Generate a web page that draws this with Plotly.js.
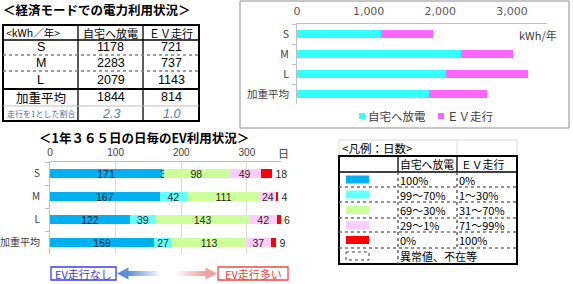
<!DOCTYPE html>
<html>
<head>
<meta charset="utf-8">
<script src="https://cdn.plot.ly/plotly-3.0.1.min.js"></script>
<style>html,body{margin:0;padding:0;background:#fff;}#chart{width:573px;height:284px;}</style>
</head>
<body>
<div id="chart"></div>
<script>
// ---------- data ----------
const categories = ['S', 'M', 'L', '加重平均'];
const homeKwh = [1178, 2283, 2079, 1844];
const evKwh = [721, 737, 1143, 814];
const ratioVals = ['2.3', '1.0'];
const ratioLabel = '走行を1とした割合';
const kwhSeriesNames = ['自宅へ放電', 'ＥＶ走行'];
const unitLabel = '&lt;kWh／年&gt;';

const days100 = [171, 167, 122, 159];
const days99to70 = [3, 42, 39, 27];
const days69to30 = [98, 111, 143, 113];
const days29to1 = [49, 24, 42, 37];
const days0 = [18, 4, 6, 9];

const legendHome = ['100%', '99～70%', '69～30%', '29～1%', '0%'];
const legendEv = ['0%', '1～30%', '31～70%', '71～99%', '100%'];
const legendOther = '異常値、不在等';
const xTicks1 = [0, 1000, 2000, 3000];
const xTicks2 = [0, 100, 200, 300];

// ---------- helpers ----------
const W = 573, H = 284;
const px = x => x / W, py = y => 1 - y / H;
const JP = '"Noto Sans CJK JP", sans-serif';
const LAT = '"Liberation Sans", sans-serif';
const shapes = [], ann = [];
function line(x0, y0, x1, y1, color, width, dash) {
  shapes.push({type: 'line', xref: 'paper', yref: 'paper', x0: px(x0), y0: py(y0), x1: px(x1), y1: py(y1),
    line: {color: color, width: width, dash: dash || 'solid'}});
}
function rect(x0, y0, x1, y1, fill, lcolor, lwidth, dash) {
  shapes.push({type: 'rect', xref: 'paper', yref: 'paper', x0: px(x0), y0: py(y0), x1: px(x1), y1: py(y1),
    fillcolor: fill || 'rgba(0,0,0,0)', line: {color: lcolor || 'rgba(0,0,0,0)', width: lwidth || 0, dash: dash || 'solid'}});
}
function text(x, y, t, size, color, anchor, family) {
  ann.push({xref: 'paper', yref: 'paper', x: px(x), y: py(y), text: t, showarrow: false,
    xanchor: anchor || 'center', yanchor: 'middle', borderpad: 0,
    font: {family: family || JP, size: size, color: color || '#000'}});
}

// ---------- titles ----------
text(2, 10, '<b>＜経済モードでの電力利用状況＞</b>', 12.5, '#000', 'left');
text(144, 137, '<b>＜1年３６５日の日毎のEV利用状況＞</b>', 12.5, '#000', 'center');

// ---------- table 1 ----------
const t1c = [3, 78, 143, 199];
const t1r = [25, 40, 55, 71, 89, 106, 121];
rect(t1c[0], t1r[0], t1c[3], t1r[6], null, '#000', 2);
line(t1c[1], t1r[0], t1c[1], t1r[6], '#000', 1.3);
line(t1c[2], t1r[0], t1c[2], t1r[6], '#000', 1.3);
line(t1c[0], t1r[1], t1c[3], t1r[1], '#000', 1.3);
line(t1c[0], t1r[2], t1c[3], t1r[2], '#7f7f7f', 1.5, 'dot');
line(t1c[0], t1r[3], t1c[3], t1r[3], '#7f7f7f', 1.5, 'dot');
line(t1c[0], t1r[4], t1c[3], t1r[4], '#000', 2.2);
line(t1c[0], t1r[5], t1c[3], t1r[5], '#bfbfbf', 1);
const cc = [(t1c[0] + t1c[1]) / 2, (t1c[1] + t1c[2]) / 2, (t1c[2] + t1c[3]) / 2];
const rc = i => (t1r[i] + t1r[i + 1]) / 2;
text(5, rc(0), unitLabel, 10.5, '#000', 'left');
text(cc[1], rc(0), kwhSeriesNames[0], 11, '#000');
text(cc[2], rc(0), kwhSeriesNames[1], 11, '#000');
categories.forEach((c, i) => {
  if (i < 3) text(cc[0], rc(i + 1), c, 12.5, '#000', 'center', LAT);
  else text(cc[0], rc(i + 1), c, 12.5, '#000');
  text(cc[1], rc(i + 1), String(homeKwh[i]), 12.5, '#000', 'center', LAT);
  text(cc[2], rc(i + 1), String(evKwh[i]), 12.5, '#000', 'center', LAT);
});
text(cc[0], rc(5), ratioLabel, 8, '#4a6fa5');
text(cc[1], rc(5), '<i>' + ratioVals[0] + '</i>', 12.5, '#4a7ebb', 'center', LAT);
text(cc[2], rc(5), '<i>' + ratioVals[1] + '</i>', 12.5, '#4a7ebb', 'center', LAT);

// ---------- chart 1 frame, legend, unit ----------
rect(240, 1, 569, 128, null, '#8c8c8c', 1);
const c1Colors = ['#33FFFF', '#FF66FF'];
rect(359, 113, 365, 119, c1Colors[0]);
text(367, 116, kwhSeriesNames[0], 11.5, '#404040', 'left');
rect(438, 113, 444, 119, c1Colors[1]);
text(446, 116, kwhSeriesNames[1], 11.5, '#404040', 'left');
text(558, 35, 'kWh/年', 11, '#404040', 'right');

// ---------- chart 2 extras ----------
text(283, 153, '日', 11, '#404040', 'center');
rect(51, 267, 116, 280, null, '#3b3bf0', 1.3);
text(83.5, 273.5, 'EV走行なし', 11, '#3b3bd8');
rect(218, 267, 288, 280, null, '#f04848', 1.3);
text(253, 273.5, 'EV走行多い', 11, '#f03c3c');
// blue arrow (gradient, pointing left)
const ay = 273.5;
for (let k = 0; k < 16; k++) {
  const a = 1 - k / 16;
  rect(128 + k * 2, ay - 2.5, 130 + k * 2, ay + 2.5, 'rgba(94,143,214,' + a.toFixed(3) + ')');
}
shapes.push({type: 'path', xref: 'paper', yref: 'paper',
  path: `M${px(117)},${py(ay)} L${px(128.5)},${py(ay - 6)} L${px(128.5)},${py(ay + 6)} Z`,
  fillcolor: 'rgb(94,143,214)', line: {width: 0}});
// pink arrow (gradient, pointing right)
for (let k = 0; k < 15; k++) {
  const a = (k + 1) / 15;
  rect(176 + k * 2, ay - 2.5, 178 + k * 2, ay + 2.5, 'rgba(242,160,160,' + a.toFixed(3) + ')');
}
shapes.push({type: 'path', xref: 'paper', yref: 'paper',
  path: `M${px(217)},${py(ay)} L${px(205.5)},${py(ay - 6)} L${px(205.5)},${py(ay + 6)} Z`,
  fillcolor: 'rgb(242,160,160)', line: {width: 0}});

// ---------- legend table ----------
const lc = [339, 398, 457, 517];
const lr = [140, 156, 172, 187, 202, 218, 232, 248, 264];
const dayColors = ['#00B0F0', '#66FFFF', '#CCFF99', '#FFCCFF', '#FF0000'];
rect(lc[0], lr[0], lc[3], lr[1], null, '#d9d9d9', 1);
line(lc[2], lr[0], lc[2], lr[1], '#d9d9d9', 1);
rect(lc[0], lr[1], lc[3], lr[8], null, '#000', 2);
line(lc[1], lr[1], lc[1], lr[2], '#000', 1.3);
line(lc[2], lr[1], lc[2], lr[2], '#000', 1.3);
line(lc[0], lr[2], lc[3], lr[2], '#000', 1.3);
line(lc[1], lr[2], lc[1], lr[8], '#606060', 1.5, 'dot');
line(lc[2], lr[2], lc[2], lr[7], '#606060', 1.5, 'dot');
for (let i = 3; i <= 7; i++) line(lc[0], lr[i], lc[3], lr[i], '#707070', 1.5, 'dot');
text(lc[0] + 2, (lr[0] + lr[1]) / 2, '&lt;凡例：日数&gt;', 11.5, '#000', 'left');
text(lc[1] + 1, (lr[1] + lr[2]) / 2, kwhSeriesNames[0], 10.8, '#000', 'left');
text(lc[2] + 3, (lr[1] + lr[2]) / 2, kwhSeriesNames[1], 10.8, '#000', 'left');
legendHome.forEach((t, i) => {
  const cy = (lr[i + 2] + lr[i + 3]) / 2;
  rect(346, cy - 4, 369, cy + 4, dayColors[i]);
  text(lc[1] + 1, cy, t, 11, '#000', 'left');
  text(lc[2] + 1, cy, legendEv[i], 11, '#000', 'left');
});
{
  const cy = (lr[7] + lr[8]) / 2;
  rect(346, cy - 4, 369, cy + 4, null, '#404040', 1, 'dot');
  text(lc[1] + 1, cy, legendOther, 11, '#000', 'left');
}

// ---------- traces ----------
const traces = [];
[homeKwh, evKwh].forEach((vals, k) => {
  traces.push({type: 'bar', orientation: 'h', y: categories, x: vals, xaxis: 'x', yaxis: 'y',
    name: kwhSeriesNames[k], marker: {color: c1Colors[k], line: {width: 0}}, width: 0.4,
    showlegend: false, hoverinfo: 'skip'});
});
const daySeries = [days100, days99to70, days69to30, days29to1, days0];
const barFont = {family: LAT, size: 10.5, color: '#262626'};
daySeries.forEach((vals, k) => {
  const last = k === daySeries.length - 1;
  traces.push({type: 'bar', orientation: 'h', y: categories, x: vals, xaxis: 'x2', yaxis: 'y2',
    name: legendHome[k], marker: {color: dayColors[k], line: {width: 0}}, width: 0.38,
    text: vals.map(String), textposition: last ? 'outside' : 'inside', insidetextanchor: 'middle',
    textangle: 0, constraintext: 'none',
    textfont: barFont, insidetextfont: barFont, outsidetextfont: barFont,
    cliponaxis: false, showlegend: false, hoverinfo: 'skip'});
});

const layout = {
  width: W, height: H, margin: {l: 0, r: 0, t: 0, b: 0},
  paper_bgcolor: '#fff', plot_bgcolor: 'rgba(0,0,0,0)',
  barmode: 'stack', showlegend: false,
  uniformtext: {mode: 'show', minsize: 10.5},
  font: {family: JP},
  xaxis: {domain: [px(297), px(547)], range: [0, 3490], side: 'top', anchor: 'y',
    tickvals: xTicks1, tickformat: ',d', showgrid: false, zeroline: false, ticks: '',
    showline: true, linecolor: '#bfbfbf', linewidth: 1, ticklabelstandoff: 4,
    tickfont: {family: '"DejaVu Sans", sans-serif', size: 11, color: '#595959'}},
  yaxis: {domain: [py(104), py(24)], anchor: 'x', autorange: 'reversed', type: 'category',
    ticks: 'outside', tickson: 'boundaries', ticklen: 4, tickcolor: '#bfbfbf',
    showline: true, linecolor: '#bfbfbf', linewidth: 1, showgrid: false, zeroline: false,
    ticklabelstandoff: 5,
    tickfont: {family: JP, size: 10.5, color: '#404040'}},
  xaxis2: {domain: [px(50), px(281)], range: [0, 352], side: 'top', anchor: 'y2',
    tickvals: xTicks2, showgrid: true, gridcolor: '#d9d9d9', zeroline: false, ticks: '',
    showline: true, linecolor: '#bfbfbf', linewidth: 1, ticklabelstandoff: 1,
    tickfont: {family: LAT, size: 10, color: '#404040'}},
  yaxis2: {domain: [py(254), py(162)], anchor: 'x2', autorange: 'reversed', type: 'category',
    ticks: 'outside', tickson: 'boundaries', ticklen: 4, tickcolor: '#bfbfbf',
    showline: true, linecolor: '#bfbfbf', linewidth: 1, showgrid: false, zeroline: false,
    ticklabelstandoff: 7,
    tickfont: {family: JP, size: 10, color: '#404040'}},
  shapes: shapes, annotations: ann
};
Plotly.newPlot('chart', traces, layout, {staticPlot: true, displayModeBar: false});
</script>
</body>
</html>
